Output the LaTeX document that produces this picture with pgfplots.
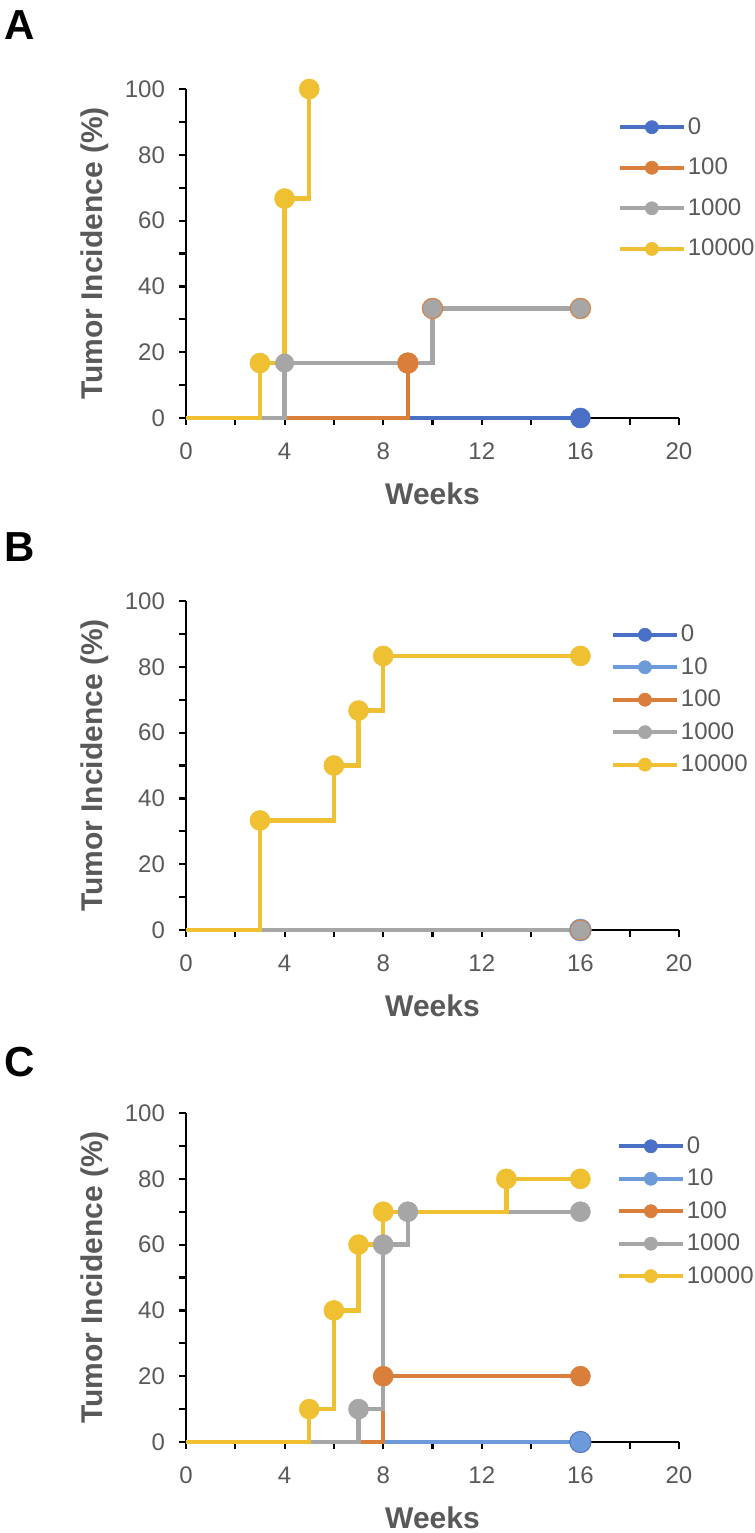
\documentclass[border=0pt]{standalone}
\usepackage{pgfplots}
\pgfplotsset{compat=1.18}
\usepackage{fontspec}
\setmainfont{Liberation Sans}
\definecolor{cBlue}{HTML}{4A6FC6}
\definecolor{cLBlue}{HTML}{6D9BD9}
\definecolor{cOrange}{HTML}{D97F3B}
\definecolor{cGray}{HTML}{A6A6A6}
\definecolor{cYellow}{HTML}{F0C033}
\definecolor{txt}{HTML}{595959}

\pgfplotsset{
  panel/.style={
    scale only axis, width=246.5pt, height=164.5pt,
    xmin=0, xmax=20, ymin=0, ymax=100,
    axis x line*=bottom, axis y line*=left,
    axis line style={black, line width=1.1pt},
    xtick={0,4,...,20}, minor xtick={2,6,...,18},
    ytick={0,20,...,100}, minor ytick={10,30,...,90},
    tick align=outside, major tick length=3.5pt, minor tick length=3.5pt,
    every tick/.style={black, line width=1.1pt},
    every minor tick/.style={black, line width=1.1pt},
    tick label style={font=\fontsize{12}{14}\selectfont, text=txt},
    xticklabel style={yshift=-5.5pt},
    yticklabel style={xshift=-3.5pt},
    /pgf/number format/assume math mode=true,
    xlabel={Weeks}, ylabel={Tumor Incidence (\%)},
    every axis x label/.style={at={(axis description cs:0.5,-0.231)}, anchor=center,
      font=\bfseries\fontsize{15}{18}\selectfont, text=txt},
    every axis y label/.style={at={(axis description cs:-0.1846,0.5)}, rotate=90, anchor=center,
      font=\bfseries\fontsize{15}{18}\selectfont, text=txt},
    clip=false,
    legend cell align=left,
    legend image code/.code={\draw[##1, line width=2pt, mark=*, mark indices={2}, mark size=3.3pt, mark options={solid, line width=0.3pt}] plot coordinates {(0pt,0pt) (16pt,0pt) (32pt,0pt)};},
    every axis plot/.append style={line width=2.2pt, line join=miter},
  },
  mk/.style={only marks, mark=*, mark size=#1, mark options={solid, line width=0.3pt}},
  mk/.default=5pt,
}

\begin{document}
\begin{tikzpicture}
\useasboundingbox (0,0) rectangle (377.5pt,-766.5pt);

% ---------- Panel A ----------
\node[anchor=north west, inner sep=0pt, font=\bfseries\fontsize{21}{24}\selectfont] at (2pt,-5pt) {A};
\begin{axis}[panel, at={(93pt,-209pt)}, anchor=south west,
  legend style={at={(axis description cs:0.876,0.699)}, anchor=west, draw=none, fill=none,
    inner sep=0pt, outer sep=0pt, row sep=8.4pt, column sep=0pt,
    font=\fontsize{12}{14}\selectfont, nodes={inner sep=1pt, outer sep=0pt, text=txt}}]
\addplot[cBlue] coordinates {(0,0) (16,0)};
\addplot[cOrange] coordinates {(0,0) (9,0) (9,16.7) (10,16.7) (10,33.3) (16,33.3)};
\addplot[cGray] coordinates {(0,0) (4,0) (4,16.7) (10,16.7) (10,33.3) (16,33.3)};
\addplot[cYellow] coordinates {(0,0) (3,0) (3,16.7) (4,16.7) (4,66.7) (5,66.7) (5,100)};
\legend{0,100,1000,10000}
\addplot[cBlue, mk] coordinates {(16,0)};
\addplot[cOrange, mk=5.2pt] coordinates {(9,16.7) (10,33.3) (16,33.3)};
\addplot[cGray, mk=4.6pt] coordinates {(4,16.7) (10,33.3) (16,33.3)};
\addplot[cYellow, mk] coordinates {(3,16.7) (4,66.7) (5,100)};
\end{axis}

% ---------- Panel B ----------
\node[anchor=north west, inner sep=0pt, font=\bfseries\fontsize{21}{24}\selectfont] at (2pt,-266pt) {B};
\begin{axis}[panel, at={(93pt,-465pt)}, anchor=south west,
  legend style={at={(axis description cs:0.862,0.70)}, anchor=west, draw=none, fill=none,
    inner sep=0pt, outer sep=0pt, row sep=4.35pt, column sep=0pt,
    font=\fontsize{12}{14}\selectfont, nodes={inner sep=1pt, outer sep=0pt, text=txt}}]
\addplot[cBlue] coordinates {(0,0) (16,0)};
\addplot[cLBlue] coordinates {(0,0) (16,0)};
\addplot[cOrange] coordinates {(0,0) (16,0)};
\addplot[cGray] coordinates {(0,0) (16,0)};
\addplot[cYellow] coordinates {(0,0) (3,0) (3,33.3) (6,33.3) (6,50) (7,50) (7,66.7) (8,66.7) (8,83.3) (16,83.3)};
\legend{0,10,100,1000,10000}
\addplot[cBlue, mk] coordinates {(16,0)};
\addplot[cLBlue, mk=5.5pt] coordinates {(16,0)};
\addplot[cOrange, mk=5.1pt] coordinates {(16,0)};
\addplot[cGray, mk=4.6pt] coordinates {(16,0)};
\addplot[cYellow, mk] coordinates {(3,33.3) (6,50) (7,66.7) (8,83.3) (16,83.3)};
\end{axis}

% ---------- Panel C ----------
\node[anchor=north west, inner sep=0pt, font=\bfseries\fontsize{21}{24}\selectfont] at (2pt,-523.5pt) {C};
\begin{axis}[panel, at={(93pt,-721pt)}, anchor=south west,
  legend style={at={(axis description cs:0.874,0.7015)}, anchor=west, draw=none, fill=none,
    inner sep=0pt, outer sep=0pt, row sep=4.35pt, column sep=0pt,
    font=\fontsize{12}{14}\selectfont, nodes={inner sep=1pt, outer sep=0pt, text=txt}}]
\addplot[cBlue] coordinates {(0,0) (16,0)};
\addplot[cLBlue] coordinates {(0,0) (16,0)};
\addplot[cOrange] coordinates {(0,0) (8,0) (8,20) (16,20)};
\addplot[cGray] coordinates {(0,0) (7,0) (7,10) (8,10) (8,60) (9,60) (9,70) (16,70)};
\addplot[cYellow] coordinates {(0,0) (5,0) (5,10) (6,10) (6,40) (7,40) (7,60) (8,60) (8,70) (13,70) (13,80) (16,80)};
\legend{0,10,100,1000,10000}
\addplot[cBlue, mk=5.4pt] coordinates {(16,0)};
\addplot[cLBlue, mk=4.9pt] coordinates {(16,0)};
\addplot[cOrange, mk] coordinates {(8,20) (16,20)};
\addplot[cGray, mk] coordinates {(7,10) (8,60) (9,70) (16,70)};
\addplot[cYellow, mk] coordinates {(5,10) (6,40) (7,60) (8,70) (13,80) (16,80)};
\end{axis}
\end{tikzpicture}
\end{document}
